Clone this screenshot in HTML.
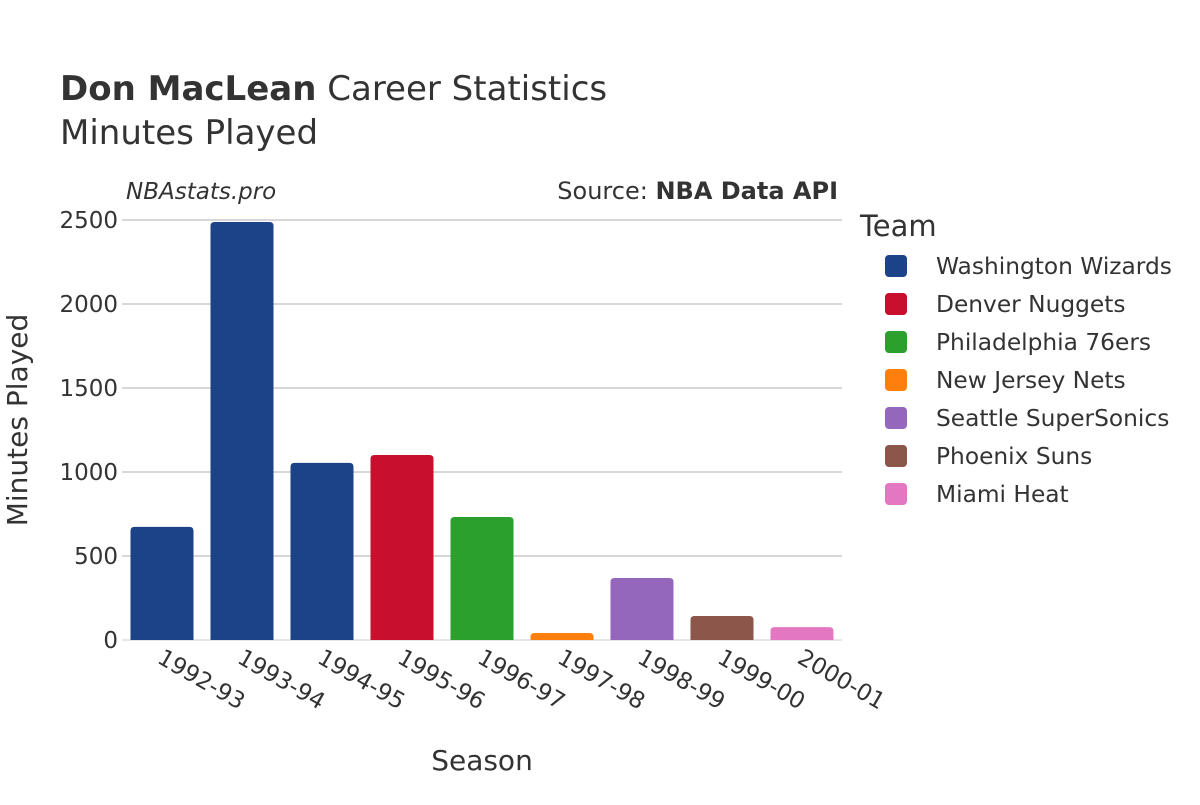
<!DOCTYPE html>
<html><head><meta charset="utf-8"><style>
body{margin:0;background:#fff;}
svg text{font-family:"DejaVu Sans","Liberation Sans",sans-serif;fill:#333;}
</style></head><body>
<svg width="1200" height="800" viewBox="0 0 1200 800">
<text x="60" y="100" font-size="34"><tspan font-weight="bold">Don MacLean</tspan> Career Statistics</text>
<text x="60" y="144" font-size="34">Minutes Played</text>
<text x="126" y="199" font-size="23" font-style="italic">NBAstats.pro</text>
<text x="838" y="199" font-size="24" text-anchor="end">Source: <tspan font-weight="bold">NBA Data API</tspan></text>
<g id="grid"></g>
<g id="bars"></g>
<g id="xlabels"></g>
<text x="482" y="770" font-size="28" text-anchor="middle">Season</text>
<text transform="translate(27,420) rotate(-90)" font-size="28" text-anchor="middle">Minutes Played</text>
<text x="860" y="236" font-size="29">Team</text>
<g id="legend"></g>
</svg>
<script>
const seasons=["1992-93","1993-94","1994-95","1995-96","1996-97","1997-98","1998-99","1999-00","2000-01"];
const minutes=[673,2488,1054,1101,732,42,369,143,77];
const barTeams=[0,0,0,1,2,3,4,5,6];
const teams=["Washington Wizards","Denver Nuggets","Philadelphia 76ers","New Jersey Nets","Seattle SuperSonics","Phoenix Suns","Miami Heat"];
const colors=["#1c4287","#c8102e","#2ca02c","#ff7f0e","#9467bd","#8c564b","#e377c2"];
const yTicks=[0,500,1000,1500,2000,2500];
const NS="http://www.w3.org/2000/svg";
const x0=122,x1=842,y0=640,y1=220,yMax=2500;
const y=v=>y0-(v/yMax)*(y0-y1);
const band=(x1-x0)/seasons.length;
const xc=i=>x0+band*(i+0.5);
function mk(tag,attrs,parent){const e=document.createElementNS(NS,tag);for(const k in attrs)e.setAttribute(k,attrs[k]);parent.appendChild(e);return e;}
const grid=document.getElementById('grid');
yTicks.forEach(t=>{
  const l=mk('line',{x1:x0,x2:x1,y1:y(t),y2:y(t),stroke:t===0?'#e6e6e6':'#b0b0b0','stroke-width':t===0?2:1},grid);
  
  
  const tx=mk('text',{x:x0-4,y:y(t)+8,'font-size':23,'text-anchor':'end'},grid);
  tx.textContent=t;
  
  
});
const bars=document.getElementById('bars');
const bw=63,r=4;
minutes.forEach((v,i)=>{
  const top=y(v),left=xc(i)-bw/2,h=y0-top,rr=Math.min(r,h);
  const p=mk('path',{d:`M${left},${y0}V${top+rr}Q${left},${top} ${left+rr},${top}H${left+bw-rr}Q${left+bw},${top} ${left+bw},${top+rr}V${y0}Z`,fill:colors[barTeams[i]]},bars);
  
  
});
const xl=document.getElementById('xlabels');
seasons.forEach((s,i)=>{
  const t=mk('text',{'font-size':23,transform:`translate(${xc(i)-6},662) rotate(30)`},xl);
  t.textContent=s;
  
  
});
const lg=document.getElementById('legend');
teams.forEach((tm,i)=>{
  const yy=266+i*38;
  const g=mk('g',{},lg);
  
  
  mk('rect',{x:885,y:yy-11,width:22,height:22,rx:4,fill:colors[i]},g);
  const t=mk('text',{x:936,y:yy+8,'font-size':23.3},g);
  t.textContent=tm;
});
</script>
</body></html>
